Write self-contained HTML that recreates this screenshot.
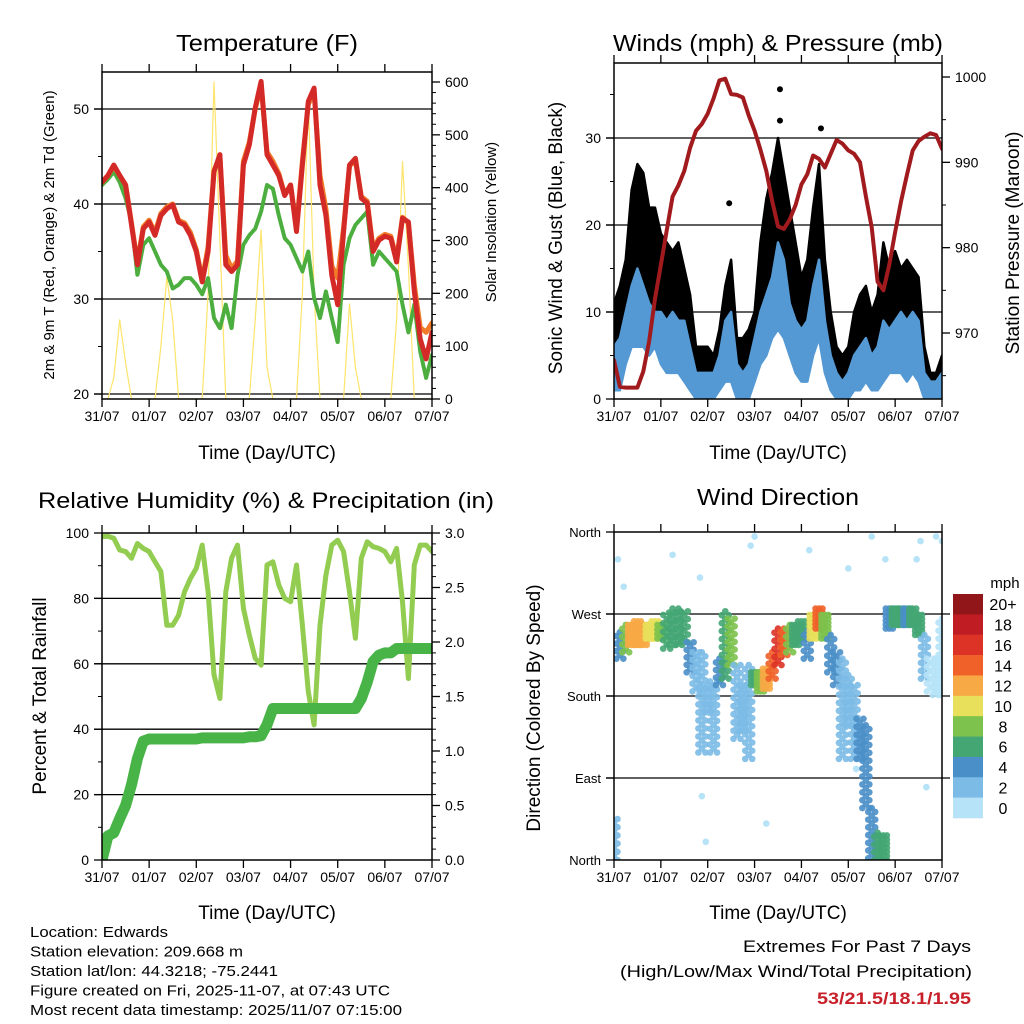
<!DOCTYPE html>
<html><head><meta charset="utf-8"><title>Station Meteogram</title>
<style>
html,body{margin:0;padding:0;background:#fff;}
svg{display:block;font-family:"Liberation Sans",Arial,sans-serif;}
</style></head>
<body>
<svg id="chart" width="1024" height="1024" viewBox="0 0 1024 1024" xmlns="http://www.w3.org/2000/svg">
<defs>
<clipPath id="c1"><rect x="102" y="72" width="330" height="327"/></clipPath>
<clipPath id="c2"><rect x="614" y="63" width="328" height="336"/></clipPath>
<clipPath id="c3"><rect x="102" y="533" width="330" height="327"/></clipPath>
<clipPath id="c4"><rect x="614" y="532" width="328" height="328"/></clipPath>
</defs>
<g id="layer"></g>
</svg>
<script>
// ---------- DATA (3-hourly samples, hours since 31/07 00) ----------
const dayLabels = ["31/07","01/07","02/07","03/07","04/07","05/07","06/07","07/07"];
const hours = [0,3,6,9,12,15,18,21,24,27,30,33,36,39,42,45,48,51,54,57,60,63,66,69,72,75,78,81,84,87,90,93,96,99,102,105,108,111,114,117,120,123,126,129,132,135,138,141,144,147,150,153,156,159,162,165,168];
const temp2m = [42.3,43,44.1,43,42,37.8,33.6,37.4,38.1,36.7,38.8,39.5,39.9,38.1,37.8,36.7,35,31.8,35,43.4,45.2,33.6,32.9,33.6,44.1,46.2,50.1,52.9,45.2,44.1,43,40.9,42,37.1,44.1,50.8,52.2,42,38.8,32.5,29.4,37.1,44.1,44.8,40.6,40.1,35,36.2,36.6,36.4,33.9,38.5,38.1,30.8,25.8,23.7,26.5];
const temp9m = [42.3,43,44,43,42,38,33.8,37.6,38.3,37,39,39.7,40,38.3,38,37,35.2,32,35.5,43.5,45,34.6,33.2,34,44.5,46.5,50,52.5,45.5,44.5,43.2,41,42,37.5,44.5,50.5,51.8,43,39.5,33.5,32.2,37.5,44,44.6,40.8,40.3,35.3,36.4,36.8,36.6,34.2,38.6,38,31.5,27,26.5,27.5];
const dewpt = [42,42.6,43.4,42.3,40.6,38.1,32.5,35.7,36.4,35,33.6,32.9,31.1,31.5,32.2,32.2,31.5,30.5,32.2,28,26.9,29.4,26.9,32.5,35.7,36.7,37.4,39.2,42,41.6,38.8,36.4,35.7,34.3,32.9,35,30.1,28,30.8,28,25.4,33.6,36.4,37.8,38.5,39.2,33.6,35,34.3,33.6,32.9,29.4,26.5,29.4,24.5,21.7,24.1];
const solar = [0,0,40,150,68,0,0,0,0,0,100,230,150,0,0,0,0,0,200,600,300,0,0,0,0,0,150,320,60,0,0,0,0,0,200,570,200,0,0,0,0,0,180,60,0,0,0,0,0,0,150,450,250,0,0,0,0];
const windLo = [1,1,4,6,6,6,5,6,4,3,3,3,2,1,0,0,0,0,1,2,2,0,0,0,2,4,5,7,8,7,5,3,2,2,5,7,3,1,0,0,0,1,1,2,1,1,2,3,3,3,2,3,2,0,0,0,0];
const windHi = [6,7,10,13,15,13,11,10,10,9,10,9,9,6,3,3,3,3,5,9,10,4,3,4,7,10,12,14,18,16,11,9,8,9,13,16,9,5,3,2,3,5,6,7,5,6,9,8,9,10,9,10,9,3,2,2,3];
const gustLo = [4,4,8,10,12,12,10,10,8,8,7,6,5,3,2,2,1,1,3,5,6,1,1,2,5,8,10,11,13,11,9,7,5,5,10,11,6,3,1,1,1,3,4,4,3,3,5,6,7,7,6,6,5,1,1,1,1];
const gustHi = [11,13,16,24,27,26,22,22,19,18,17,18,15,12,6,6,6,5,8,13,16,7,7,8,10,18,23,26,30,26,22,18,14,16,22,27,16,10,6,5,6,10,12,13,10,12,18,15,17,15,16,15,14,6,3,3,5];
const gustOutHours = [59,85,85,106];
const gustOutValues = [22.5,35.6,32,31.1];
const pressure = [966.8,963.7,963.6,963.6,963.6,965.5,969,974,978,982,986,987.3,989,991.7,993.7,994.5,995.7,997.5,999.6,999.8,998,997.9,997.6,995.5,993.7,991.5,989,985.5,982.5,982.2,983.3,985,987.4,988.6,990.8,990.4,989.4,991,992.6,992.2,991.4,991,990,986,982.4,976,975,978,981.8,985.4,988.5,991.4,992.5,993,993.4,993.2,991.6];
const rh = [98.9,99,98.4,94.8,94.3,92.3,96.8,95.3,94.3,91.2,88.2,71.8,71.8,74.9,82,86.1,89.2,96.3,82,56.6,49.4,82,92.3,96.3,77,68.8,61.7,59.6,90.2,91.2,84.1,80,79,90.2,71.8,51.5,41.3,71.8,87.1,96.3,97.8,94.3,82,67.8,92.3,97.3,95.8,95.3,94.3,91.2,95.3,79,55.5,90.2,96.3,96.3,94.3];
const precip = [0,0.22,0.25,0.38,0.5,0.69,0.93,1.09,1.11,1.11,1.11,1.11,1.11,1.11,1.11,1.11,1.11,1.12,1.12,1.12,1.12,1.12,1.12,1.12,1.12,1.13,1.13,1.14,1.24,1.39,1.39,1.39,1.39,1.39,1.39,1.39,1.39,1.39,1.39,1.39,1.39,1.39,1.39,1.39,1.48,1.63,1.82,1.88,1.9,1.9,1.94,1.94,1.94,1.94,1.94,1.94,1.94];
const dirLo = [0,221,228,236,236,236,243,243,243,232,236,236,239,206,185,118,163,118,192,199,214,133,141,111,192,185,188,199,214,225,228,236,243,221,243,254,243,206,192,111,148,111,111,57,2,0,0,254,258,258,258,258,247,199,185,181,181];
const dirHi = [45,250,258,258,262,258,258,262,258,269,276,276,273,239,228,228,192,196,221,273,265,214,192,214,206,206,210,228,254,254,258,258,262,251,269,276,269,247,228,221,203,192,155,148,57,30,27,276,276,276,276,276,269,247,221,221,265];
const dirSpeed = [3,5,8,12,13,12,11,10,9,6,6,7,6,4,2,2,3,2,4,6,8,2,3,2,7,9,12,14,16,14,8,7,6,5,10,14,9,4,4,2,2,3,4,4,5,7,7,5,7,6,5,7,6,2,1,1,1];
const strayHours = [2,5,44,45,47,70,72,78,120,124,132,139,155,157,160,165,168,30,100];
const strayDirs = [330,300,310,70,20,345,355,40,320,100,355,330,330,350,80,355,350,335,340];
const cbLabels = ["20+","18","16","14","12","10","8","6","4","2","0"];
const cbColors = ["#911619","#bf1c24","#dd3327","#ef6129","#f7a945","#e8e05a","#7cc24c","#44a673","#4a8fc8","#7cbbe6","#b7e3f8"];

// ---------- helpers ----------
const NS = "http://www.w3.org/2000/svg";
const layer = document.getElementById('layer');
function mk(tag, attrs, parent){
  const e = document.createElementNS(NS, tag);
  for (const k in attrs) e.setAttribute(k, attrs[k]);
  (parent||layer).appendChild(e);
  return e;
}
function txt(s, x, y, size, anchor, parent, extra){
  const t = mk('text', Object.assign({x:x, y:y, 'font-size':size, 'text-anchor':anchor||'middle', fill:'#000'}, extra||{}), parent);
  t.textContent = s;
  return t;
}
function lin(d0,d1,r0,r1){ return v => r0 + (v-d0)/(d1-d0)*(r1-r0); }
function speedColor(s){
  const idx = s>=20?0:10-Math.floor(s/2);
  return cbColors[Math.max(0,Math.min(10,idx))];
}

function panel(P){
  const g = mk('g', {});
  
  
  P.grid.forEach(v=>{
    const y = P.yL(v);
    const gl = mk('line', {x1:P.x0-8, x2:P.x1+(P.gridR||0), y1:y, y2:y, stroke:'#000', 'stroke-width':1.3}, g);
    
    
  });
  const xt = mk('g', {}, g);
  
  
  dayLabels.forEach((lab,i)=>{
    const x = P.xS(i*24);
    mk('line', {x1:x, x2:x, y1:P.y1, y2:P.y1+8, stroke:'#000', 'stroke-width':1.3}, xt);
    mk('line', {x1:x, x2:x, y1:P.y0, y2:P.y0-8, stroke:'#000', 'stroke-width':1.3}, xt);
    const t = txt(lab, x, P.y1+22, 14, 'middle', xt);
    
    
  });
  const yt = mk('g', {}, g);
  
  
  P.lt.forEach((v,i)=>{
    const y = P.yL(v);
    mk('line', {x1:P.x0-8, x2:P.x0, y1:y, y2:y, stroke:'#000', 'stroke-width':1.3}, yt);
    const t = txt(P.ltl[i], P.x0-13, y+5, P.ltSize||14, 'end', yt);
    
    
  });
  (P.lminor||[]).forEach(v=>{
    const y=P.yL(v);
    mk('line', {x1:P.x0-4, x2:P.x0, y1:y, y2:y, stroke:'#000', 'stroke-width':1}, yt);
  });
  if (P.rt){
    const rt = mk('g', {}, g);
    
    
    P.rt.forEach((v,i)=>{
      const y = P.yR(v);
      mk('line', {x1:P.x1, x2:P.x1+8, y1:y, y2:y, stroke:'#000', 'stroke-width':1.3}, rt);
      const t = txt(P.rtl[i], P.x1+13, y+5, 14, 'start', rt);
      
      
    });
    (P.rminor||[]).forEach(v=>{
      const y=P.yR(v);
      mk('line', {x1:P.x1, x2:P.x1+4, y1:y, y2:y, stroke:'#000', 'stroke-width':1}, rt);
    });
  }
  return g;
}
function frame(P, g){
  const f = mk('rect', {x:P.x0, y:P.y0, width:P.x1-P.x0, height:P.y1-P.y0, fill:'none', stroke:'#000', 'stroke-width':1.5}, g);
  
  
}
function poly(vals, xS, yS, attrs, parent, name){
  const pts = vals.map((v,i)=>xS(hours[i]).toFixed(1)+','+yS(v).toFixed(1)).join(' ');
  const p = mk('polyline', Object.assign({points:pts, fill:'none', 'stroke-linejoin':'round', 'stroke-linecap':'round'}, attrs), parent);
  
  
  return p;
}
function band(lo, hi, xS, yS, fill, parent, name){
  const a = lo.map((v,i)=>xS(hours[i]).toFixed(1)+','+yS(v).toFixed(1));
  const b = hi.map((v,i)=>xS(hours[i]).toFixed(1)+','+yS(v).toFixed(1)).reverse();
  const p = mk('polygon', {points:a.concat(b).join(' '), fill:fill, stroke:fill, 'stroke-width':2.5, 'stroke-linejoin':'round'}, parent);
  
  
  return p;
}
function rotText(s, x, y, size, parent, name){
  const t = txt(s, 0, 0, size, 'middle', parent, {transform:'translate('+x+','+y+') rotate(-90)'});
  
  
  return t;
}
function title(s, x, y, size, name, len){
  const t = txt(s, x, y, size, 'middle', layer, len?{textLength:len, lengthAdjust:'spacingAndGlyphs'}:{});
  
  
}

// ---------- Panel 1: Temperature ----------
(function(){
  const P = {name:'temperature-panel', x0:102, x1:432, y0:72, y1:399};
  P.xS = lin(0,168,P.x0,P.x1);
  P.yL = lin(20,50,394,109);
  P.yR = lin(0,600,399,82);
  P.grid=[20,30,40,50]; P.gridR=0;
  P.lt=[20,30,40,50]; P.ltl=['20','30','40','50'];
  P.lminor=[25,35,45];
  P.rt=[0,100,200,300,400,500,600]; P.rtl=['0','100','200','300','400','500','600'];
  P.rminor=[20,40,60,80,120,140,160,180,220,240,260,280,320,340,360,380,420,440,460,480,520,540,560,580];
  const g = panel(P);
  const d = mk('g', {'clip-path':'url(#c1)'}, g);
  poly(solar, P.xS, P.yR, {stroke:'#fde46a', 'stroke-width':1.2}, d, 'solar-insolation-line');
  poly(dewpt, P.xS, P.yL, {stroke:'#4cae3f', 'stroke-width':4, 'stroke-dasharray':'3 1.5'}, d, 'dewpoint-line');
  poly(temp9m, P.xS, P.yL, {stroke:'#f27b2a', 'stroke-width':5}, d, 'temp-9m-line');
  poly(temp2m, P.xS, P.yL, {stroke:'#d42a27', 'stroke-width':5}, d, 'temp-2m-line');
  frame(P, g);
  title('Temperature (F)', 267, 51, 23, 'temperature-title', 182);
  rotText('2m & 9m T (Red, Orange) & 2m Td (Green)', 54, 235, 15, g, 'temperature-y-axis-title');
  rotText('Solar Insolation (Yellow)', 496, 222, 15, g, 'solar-y-axis-title');
  const xt = txt('Time (Day/UTC)', 267, 459, 19, 'middle', g);
  
  
})();

// ---------- Panel 2: Winds & Pressure ----------
(function(){
  const P = {name:'winds-pressure-panel', x0:614, x1:942, y0:63, y1:399};
  P.xS = lin(0,168,P.x0,P.x1);
  P.yL = lin(0,30,399,138);
  P.yR = lin(970,1000,333,77);
  P.grid=[10,20,30]; P.gridR=0;
  P.lt=[0,10,20,30]; P.ltl=['0','10','20','30'];
  P.lminor=[5,15,25,35];
  P.rt=[970,980,990,1000]; P.rtl=['970','980','990','1000'];
  P.rminor=[965,975,985,995];
  const g = panel(P);
  const d = mk('g', {'clip-path':'url(#c2)'}, g);
  band(gustLo, gustHi, P.xS, P.yL, '#000', d, 'gust-band');
  gustOutHours.forEach((h,i)=>{
    const c = mk('circle', {cx:P.xS(h), cy:P.yL(gustOutValues[i]), r:3, fill:'#000'}, d);
    
    
  });
  band(windLo, windHi, P.xS, P.yL, '#5499d3', d, 'wind-band');
  poly(pressure, P.xS, P.yR, {stroke:'#a11b1e', 'stroke-width':4}, d, 'pressure-line');
  frame(P, g);
  title('Winds (mph) & Pressure (mb)', 778, 51, 23, 'winds-title', 330);
  rotText('Sonic Wind & Gust (Blue, Black)', 562, 238, 19, g, 'wind-y-axis-title');
  rotText('Station Pressure (Maroon)', 1019, 243, 19, g, 'pressure-y-axis-title');
  const xt = txt('Time (Day/UTC)', 778, 459, 19, 'middle', g);
  
  
})();

// ---------- Panel 3: RH & Precip ----------
(function(){
  const P = {name:'humidity-precip-panel', x0:102, x1:432, y0:533, y1:860};
  P.xS = lin(0,168,P.x0,P.x1);
  P.yL = lin(0,100,860,533);
  P.yR = lin(0,3,860,533);
  P.grid=[20,40,60,80]; P.gridR=0;
  P.lt=[0,20,40,60,80,100]; P.ltl=['0','20','40','60','80','100'];
  P.lminor=[10,30,50,70,90];
  P.rt=[0,0.5,1,1.5,2,2.5,3]; P.rtl=['0.0','0.5','1.0','1.5','2.0','2.5','3.0'];
  P.rminor=[0.1,0.2,0.3,0.4,0.6,0.7,0.8,0.9,1.1,1.2,1.3,1.4,1.6,1.7,1.8,1.9,2.1,2.2,2.3,2.4,2.6,2.7,2.8,2.9];
  const g = panel(P);
  const d = mk('g', {'clip-path':'url(#c3)'}, g);
  poly(rh, P.xS, P.yL, {stroke:'#92cc50', 'stroke-width':5}, d, 'humidity-line');
  poly(precip, P.xS, P.yR, {stroke:'#48b447', 'stroke-width':11}, d, 'precip-line');
  frame(P, g);
  title('Relative Humidity (%) & Precipitation (in)', 266, 508, 22, 'humidity-title', 456);
  rotText('Percent & Total Rainfall', 46, 696, 19, g, 'humidity-y-axis-title');
  const xt = txt('Time (Day/UTC)', 267, 919, 19, 'middle', g);
  
  
})();

// ---------- Panel 4: Wind direction ----------
(function(){
  const P = {name:'wind-direction-panel', x0:614, x1:942, y0:532, y1:860};
  P.xS = lin(0,168,P.x0,P.x1);
  P.yL = lin(0,360,860,532);
  P.grid=[90,180,270]; P.gridR=8;
  P.lt=[0,90,180,270,360]; P.ltl=['North','East','South','West','North'];
  P.ltSize=13;
  const g = panel(P);
  const d = mk('g', {'clip-path':'url(#c4)'}, g);
  strayHours.forEach((h,i)=>{
    const c = mk('circle', {cx:P.xS(h), cy:P.yL(strayDirs[i]), r:3.3, fill:cbColors[10]}, d);
    
    
  });
  hours.forEach((h,i)=>{
    const col = speedColor(dirSpeed[i]);
    const y0 = P.yL(dirLo[i]), y1 = P.yL(dirHi[i]);
    const n = Math.max(1, Math.round(Math.abs(y0-y1)/4));
    [-3.5,0,3.5].forEach((dx,k)=>{
      for (let j=0;j<=n;j++){
        if ((j+k)%2===1 && n>6) continue;
        const c = mk('circle', {cx:P.xS(h)+dx, cy:y0+(y1-y0)*j/n, r:3.3, fill:col, 'fill-opacity':0.9}, d);
        
        
      }
    });
  });
  frame(P, g);
  title('Wind Direction', 778, 505, 23, 'wind-direction-title', 162);
  rotText('Direction (Colored By Speed)', 540, 708, 19, g, 'direction-y-axis-title');
  const xt = txt('Time (Day/UTC)', 778, 919, 19, 'middle', g);
  
  
  const cb = mk('g', {});
  
  
  const bh = (818-594)/cbColors.length;
  cbColors.forEach((c,i)=>{
    const r = mk('rect', {x:953, y:594+i*bh, width:30, height:bh+0.3, fill:c}, cb);
    
    
    const t = txt(cbLabels[i], 1003, 594+i*bh+bh/2+6, 16, 'middle', cb);
    
    
  });
  const u = txt('mph', 1005, 588, 15, 'middle', cb);
  
  
})();

// ---------- footer ----------
const infoLines = ['Location: Edwards','Station elevation: 209.668 m','Station lat/lon: 44.3218; -75.2441','Figure created on Fri, 2025-11-07, at 07:43 UTC','Most recent data timestamp: 2025/11/07 07:15:00'];
const infoLens = [138,213,248,360,372];
infoLines.forEach((s,i)=>{
  const t = txt(s, 30, 937+i*19.5, 15, 'start', layer, {textLength:infoLens[i], lengthAdjust:'spacingAndGlyphs'});
  
  
});
(function(){
  const a = txt('Extremes For Past 7 Days', 971, 952, 17, 'end', layer, {textLength:228, lengthAdjust:'spacingAndGlyphs'});
  
  
  const b = txt('(High/Low/Max Wind/Total Precipitation)', 972, 977, 17, 'end', layer, {textLength:352, lengthAdjust:'spacingAndGlyphs'});
  
  
  const c = txt('53/21.5/18.1/1.95', 971, 1004, 17, 'end', layer, {fill:'#c8202a', 'font-weight':'bold', textLength:154, lengthAdjust:'spacingAndGlyphs'});
  
  
})();
</script>
</body></html>
